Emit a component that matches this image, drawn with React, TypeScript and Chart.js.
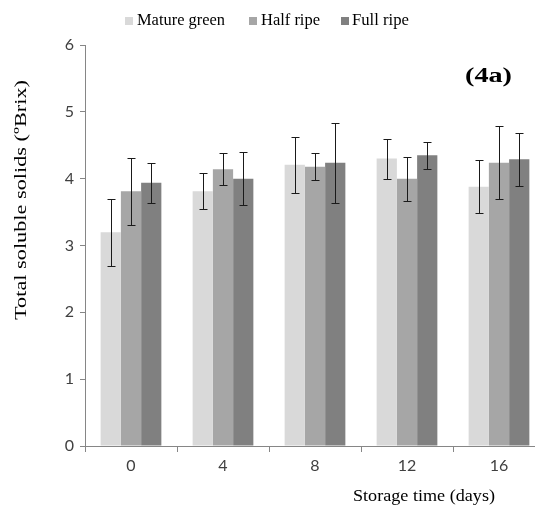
import React, { useEffect, useRef } from "react";
import { Chart, registerables } from "chart.js";

Chart.register(...registerables);

const categories = ["0", "4", "8", "12", "16"];
const seriesNames = ["Mature green", "Half ripe", "Full ripe"];
const matureGreen = [3.2, 3.81, 4.21, 4.3, 3.88];
const halfRipe = [3.81, 4.14, 4.18, 4.0, 4.24];
const fullRipe = [3.94, 4.0, 4.24, 4.35, 4.29];
const matureGreenErr = [0.5, 0.27, 0.42, 0.3, 0.4];
const halfRipeErr = [0.5, 0.24, 0.2, 0.33, 0.55];
const fullRipeErr = [0.3, 0.4, 0.6, 0.2, 0.4];
const yTicks = [0, 1, 2, 3, 4, 5, 6];
const colors = ["#d9d9d9", "#a6a6a6", "#808080"];

const errors = [matureGreenErr, halfRipeErr, fullRipeErr];

const SERIF = "'Liberation Serif', 'Times New Roman', serif";
const TICKFONT = "Lato, 'Liberation Sans', sans-serif";

function fitText(ctx: CanvasRenderingContext2D, text: string, x: number, y: number, width: number) {
  const w = ctx.measureText(text).width;
  const sx = width / w;
  ctx.save();
  ctx.translate(x, y);
  ctx.scale(sx, 1);
  ctx.fillText(text, 0, 0);
  ctx.restore();
}

const decorPlugin = {
  id: "decor",
  afterDatasetsDraw(chart: any) {
    const ctx = chart.ctx as CanvasRenderingContext2D;
    const yScale = chart.scales.y;
    ctx.save();
    ctx.strokeStyle = "#1a1a1a";
    ctx.lineWidth = 1;
    chart.data.datasets.forEach((ds: any, di: number) => {
      const meta = chart.getDatasetMeta(di);
      meta.data.forEach((el: any, i: number) => {
        const v = ds.data[i];
        const e = errors[di][i];
        const x = Math.round(el.x) + 0.5;
        const yt = Math.round(yScale.getPixelForValue(v + e)) + 0.5;
        const yb = Math.round(yScale.getPixelForValue(v - e)) + 0.5;
        ctx.beginPath();
        ctx.moveTo(x, yt);
        ctx.lineTo(x, yb);
        ctx.moveTo(x - 4, yt);
        ctx.lineTo(x + 4, yt);
        ctx.moveTo(x - 4, yb);
        ctx.lineTo(x + 4, yb);
        ctx.stroke();
      });
    });
    ctx.restore();
  },
  afterDraw(chart: any) {
    const ctx = chart.ctx as CanvasRenderingContext2D;
    ctx.save();
    ctx.fillStyle = "#000";
    ctx.textBaseline = "middle";
    ctx.textAlign = "left";
    const legendItems = [
      { sq: 125, tx: 137, tw: 88 },
      { sq: 249, tx: 261, tw: 59 },
      { sq: 341, tx: 352, tw: 57 },
    ];
    ctx.font = "17px " + SERIF;
    legendItems.forEach((it, i) => {
      ctx.fillStyle = colors[i];
      ctx.fillRect(it.sq, 17, 8, 8);
      ctx.fillStyle = "#000";
      fitText(ctx, seriesNames[i], it.tx, 21, it.tw);
    });
    ctx.font = "bold 20px " + SERIF;
    fitText(ctx, "(4a)", 465, 77, 47);
    ctx.font = "17px " + SERIF;
    fitText(ctx, "Storage time (days)", 353, 497, 142);
    ctx.save();
    ctx.translate(22, 320);
    ctx.rotate(-Math.PI / 2);
    ctx.font = "17px " + SERIF;
    fitText(ctx, "Total soluble solids (ºBrix)", 0, 0, 240);
    ctx.restore();
    ctx.restore();
  },
};

export default function App() {
  const ref = useRef<HTMLCanvasElement>(null);
  useEffect(() => {
    if (!ref.current) return;
    const data = [matureGreen, halfRipe, fullRipe];
    const chart = new Chart(ref.current, {
      type: "bar",
      data: {
        labels: categories,
        datasets: data.map((d, i) => ({
          label: seriesNames[i],
          data: d,
          backgroundColor: colors[i],
          borderWidth: 0,
          categoryPercentage: 0.66,
          barPercentage: 1.0,
        })),
      },
      options: {
        responsive: false,
        animation: false,
        layout: { padding: { left: 45, top: 45, right: 15, bottom: 22 } },
        plugins: { legend: { display: false }, tooltip: { enabled: false }, title: { display: false } },
        scales: {
          x: {
            offset: true,
            grid: { display: true, drawOnChartArea: false, offset: true, color: "#868686", tickLength: 6 },
            border: { display: true, color: "#868686" },
            ticks: { color: "#404040", font: { family: TICKFONT, size: 16 }, padding: 4 },
            afterFit: (s: any) => { s.height = 40; },
          },
          y: {
            min: 0,
            max: 6,
            afterBuildTicks: (s: any) => { s.ticks = yTicks.map((v) => ({ value: v })); },
            grid: { display: true, drawOnChartArea: false, color: "#868686", tickLength: 5 },
            border: { display: true, color: "#868686" },
            ticks: { color: "#404040", font: { family: TICKFONT, size: 16 }, padding: 6 },
            afterFit: (s: any) => { s.width = 40; },
          },
        },
      },
      plugins: [decorPlugin],
    });
    return () => chart.destroy();
  }, []);
  return (
    <div style={{ position: "fixed", left: 0, top: 0, width: 535, height: 508, overflow: "hidden", background: "#fff" }}>
      <canvas ref={ref} width={560} height={508} style={{ display: "block" }} />
    </div>
  );
}
